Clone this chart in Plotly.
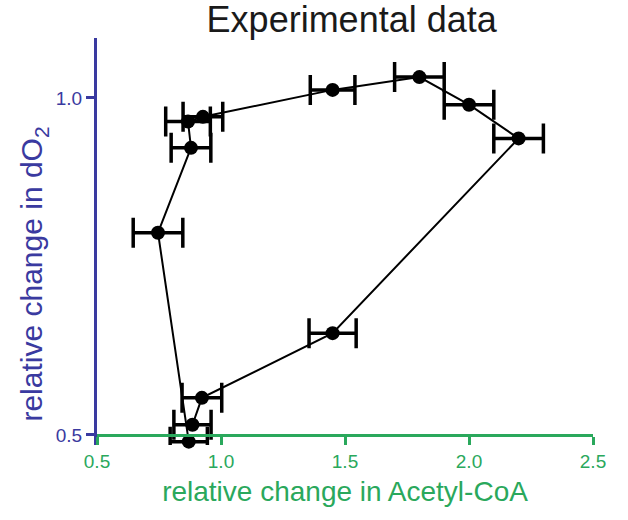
import plotly.graph_objects as go

# Data, in time order around the loop
acetyl_coa = [0.885, 0.923, 1.45, 2.20, 2.00, 1.80, 1.45, 0.927, 0.867, 0.879, 0.746, 0.870]
acetyl_err = [0.075, 0.08, 0.095, 0.10, 0.10, 0.10, 0.09, 0.08, 0.09, 0.08, 0.10, 0.075]
do2 = [0.515, 0.555, 0.651, 0.940, 0.990, 1.031, 1.012, 0.972, 0.965, 0.926, 0.800, 0.490]

x_ticks = [0.5, 1.0, 1.5, 2.0, 2.5]
y_ticks = [0.5, 1.0]

BLUE = "#3a3aa0"
GREEN = "#2aa85c"
FONT = "Liberation Sans, Arial, Helvetica, sans-serif"

Y_MIN, Y_MAX = 0.485, 1.089
x_axis_pos = (0.5 - Y_MIN) / (Y_MAX - Y_MIN)

fig = go.Figure()
fig.add_trace(go.Scatter(
    x=acetyl_coa, y=do2,
    mode="lines+markers",
    line=dict(color="black", width=2),
    marker=dict(symbol="circle", size=14, color="black"),
    error_x=dict(type="data", array=acetyl_err, visible=True,
                 color="black", thickness=3.5, width=15),
    cliponaxis=False,
    showlegend=False,
))

fig.add_annotation(
    text="relative change in dO<sub>2</sub>",
    xref="paper", yref="paper", x=-0.128, y=0.42,
    xanchor="center", yanchor="middle", textangle=-90,
    showarrow=False, font=dict(size=30, color=BLUE, family=FONT),
)

fig.update_layout(
    width=628, height=520,
    paper_bgcolor="white", plot_bgcolor="white",
    margin=dict(l=97, r=35, t=38, b=75),
    font=dict(family=FONT),
    title=dict(text="Experimental data", x=0.56, xanchor="center",
               y=0.962, yanchor="middle",
               font=dict(size=36, color="#1a1a1a", family=FONT)),
    xaxis=dict(
        range=[0.5, 2.5], tickvals=x_ticks, tickformat=".1f",
        anchor="free", position=x_axis_pos,
        showgrid=False, zeroline=False,
        showline=True, linecolor=GREEN, linewidth=3,
        ticks="outside", ticklen=8, tickwidth=3, tickcolor=GREEN,
        tickfont=dict(size=19, color=GREEN),
        title=dict(text="relative change in Acetyl-CoA",
                   font=dict(size=28, color=GREEN), standoff=10),
    ),
    yaxis=dict(
        range=[Y_MIN, Y_MAX], tickvals=y_ticks, tickformat=".1f",
        showgrid=False, zeroline=False,
        showline=True, linecolor=BLUE, linewidth=3,
        ticks="outside", ticklen=8, tickwidth=3, tickcolor=BLUE,
        tickfont=dict(size=19, color=BLUE),
    ),
)

fig.write_html("out.html")
